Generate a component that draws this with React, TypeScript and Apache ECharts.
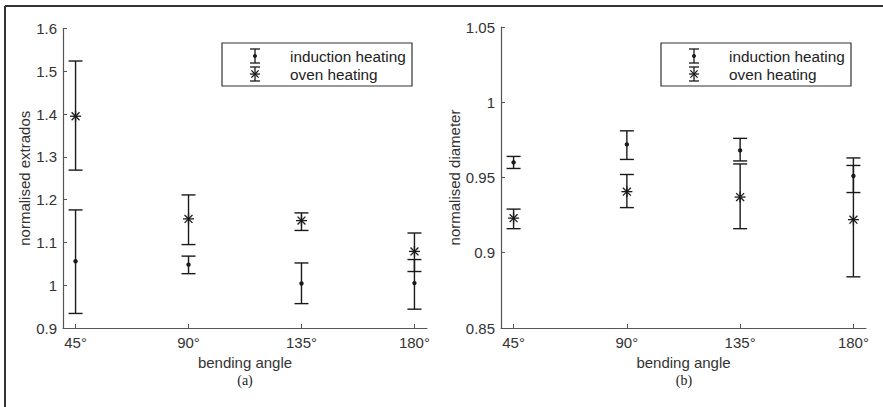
import React, { useEffect, useRef } from "react";
import * as echarts from "echarts";

const angles = [45, 90, 135, 180];
const angleTicks = [45, 90, 135, 180];

// (a) normalised extrados
const extInductionMean = [1.056, 1.048, 1.004, 1.005];
const extInductionLow = [0.934, 1.027, 0.957, 0.944];
const extInductionHigh = [1.176, 1.068, 1.052, 1.06];
const extOvenMean = [1.395, 1.155, 1.151, 1.079];
const extOvenLow = [1.269, 1.095, 1.128, 1.032];
const extOvenHigh = [1.524, 1.211, 1.169, 1.122];

// (b) normalised diameter
const diaInductionMean = [0.96, 0.972, 0.968, 0.951];
const diaInductionLow = [0.956, 0.962, 0.961, 0.94];
const diaInductionHigh = [0.964, 0.981, 0.976, 0.963];
const diaOvenMean = [0.923, 0.9406, 0.937, 0.922];
const diaOvenLow = [0.916, 0.93, 0.916, 0.884];
const diaOvenHigh = [0.929, 0.952, 0.959, 0.958];

const LINE = "#1a1a1a";
const AXIS = "#555";
const FONT = "Liberation Sans, Arial, sans-serif";

function rows(mean: number[], low: number[], high: number[]) {
  return angles.map((a, i) => [a, mean[i], low[i], high[i]]);
}

function makeRender(kind: "dot" | "star") {
  return (params: any, api: any) => {
    const x = api.value(0);
    const c = api.coord([x, api.value(1)]);
    const lo = api.coord([x, api.value(2)]);
    const hi = api.coord([x, api.value(3)]);
    const w = 7;
    const st = { stroke: LINE, lineWidth: 1.4 };
    const children: any[] = [
      { type: "line", shape: { x1: lo[0], y1: lo[1], x2: hi[0], y2: hi[1] }, style: st },
      { type: "line", shape: { x1: lo[0] - w, y1: lo[1], x2: lo[0] + w, y2: lo[1] }, style: st },
      { type: "line", shape: { x1: hi[0] - w, y1: hi[1], x2: hi[0] + w, y2: hi[1] }, style: st },
    ];
    if (kind === "dot") {
      children.push({ type: "circle", shape: { cx: c[0], cy: c[1], r: 2.2 }, style: { fill: LINE } });
    } else {
      const r = 5.5;
      const d = r * 0.72;
      const s = { stroke: LINE, lineWidth: 1.3 };
      children.push(
        { type: "line", shape: { x1: c[0] - r, y1: c[1], x2: c[0] + r, y2: c[1] }, style: s },
        { type: "line", shape: { x1: c[0], y1: c[1] - r, x2: c[0], y2: c[1] + r }, style: s },
        { type: "line", shape: { x1: c[0] - d, y1: c[1] - d, x2: c[0] + d, y2: c[1] + d }, style: s },
        { type: "line", shape: { x1: c[0] - d, y1: c[1] + d, x2: c[0] + d, y2: c[1] - d }, style: s }
      );
    }
    return { type: "group", children };
  };
}

function xAxisDef(gridIndex: number) {
  return {
    type: "value",
    gridIndex,
    min: 40,
    max: 185,
    name: "bending angle",
    nameLocation: "middle",
    nameGap: 22,
    nameTextStyle: { fontFamily: FONT, fontSize: 15, color: "#333" },
    axisLine: { lineStyle: { color: AXIS, width: 1.2 } },
    axisTick: { inside: true, length: 4, customValues: angleTicks, lineStyle: { color: AXIS } },
    axisLabel: {
      customValues: angleTicks,
      formatter: (v: number) => v + "°",
      fontFamily: FONT,
      fontSize: 15,
      color: "#333",
      margin: 7,
    },
    splitLine: { show: false },
  };
}

function yAxisDef(gridIndex: number, min: number, max: number, interval: number, name: string, gap: number) {
  return {
    type: "value",
    gridIndex,
    min,
    max,
    interval,
    name,
    nameLocation: "middle",
    nameGap: gap,
    nameTextStyle: { fontFamily: FONT, fontSize: 15, color: "#333" },
    axisLine: { show: true, lineStyle: { color: AXIS, width: 1.2 } },
    axisTick: { show: true, inside: true, length: 4, lineStyle: { color: AXIS } },
    axisLabel: { fontFamily: FONT, fontSize: 15, color: "#333", margin: 6 },
    splitLine: { show: false },
  };
}

function legendGraphic(left: number, top: number) {
  const w = 190;
  const h = 43;
  const ix = left + 33;
  const st = { stroke: LINE, lineWidth: 1.3 };
  const y1 = top + 13;
  const y2 = top + 31;
  const cw = 5;
  const r = 5;
  const d = r * 0.72;
  return [
    { type: "rect", shape: { x: left, y: top, width: w, height: h }, style: { fill: "#fff", stroke: "#333", lineWidth: 1.2 }, z: 10 },
    // induction icon
    { type: "line", shape: { x1: ix, y1: y1 - 7, x2: ix, y2: y1 + 7 }, style: st, z: 11 },
    { type: "line", shape: { x1: ix - cw, y1: y1 - 7, x2: ix + cw, y2: y1 - 7 }, style: st, z: 11 },
    { type: "line", shape: { x1: ix - cw, y1: y1 + 7, x2: ix + cw, y2: y1 + 7 }, style: st, z: 11 },
    { type: "circle", shape: { cx: ix, cy: y1, r: 2 }, style: { fill: LINE }, z: 11 },
    // oven icon
    { type: "line", shape: { x1: ix, y1: y2 - 7, x2: ix, y2: y2 + 7 }, style: st, z: 11 },
    { type: "line", shape: { x1: ix - cw, y1: y2 - 7, x2: ix + cw, y2: y2 - 7 }, style: st, z: 11 },
    { type: "line", shape: { x1: ix - cw, y1: y2 + 7, x2: ix + cw, y2: y2 + 7 }, style: st, z: 11 },
    { type: "line", shape: { x1: ix - r, y1: y2, x2: ix + r, y2: y2 }, style: st, z: 11 },
    { type: "line", shape: { x1: ix - d, y1: y2 - d, x2: ix + d, y2: y2 + d }, style: st, z: 11 },
    { type: "line", shape: { x1: ix - d, y1: y2 + d, x2: ix + d, y2: y2 - d }, style: st, z: 11 },
    {
      type: "text",
      x: left + 68,
      y: y1,
      style: { text: "induction heating", fontFamily: FONT, fontSize: 15.3, fill: "#222", verticalAlign: "middle" },
      z: 11,
    },
    {
      type: "text",
      x: left + 68,
      y: y2,
      style: { text: "oven heating", fontFamily: FONT, fontSize: 15.3, fill: "#222", verticalAlign: "middle" },
      z: 11,
    },
  ];
}

export default function App() {
  const ref = useRef<HTMLDivElement>(null);
  useEffect(() => {
    if (!ref.current) return;
    const chart = echarts.init(ref.current, null, { renderer: "svg" });
    chart.setOption({
      animation: false,
      backgroundColor: "#fff",
      grid: [
        { left: 63, top: 28.5, width: 364, height: 299.5 },
        { left: 501, top: 27, width: 365, height: 301 },
      ],
      xAxis: [xAxisDef(0), xAxisDef(1)],
      yAxis: [
        yAxisDef(0, 0.9, 1.6, 0.1, "normalised extrados", 26),
        yAxisDef(1, 0.85, 1.05, 0.05, "normalised diameter", 35),
      ],
      series: [
        { type: "custom", name: "induction heating", xAxisIndex: 0, yAxisIndex: 0, data: rows(extInductionMean, extInductionLow, extInductionHigh), encode: { x: 0, y: [1, 2, 3] }, renderItem: makeRender("dot") },
        { type: "custom", name: "oven heating", xAxisIndex: 0, yAxisIndex: 0, data: rows(extOvenMean, extOvenLow, extOvenHigh), encode: { x: 0, y: [1, 2, 3] }, renderItem: makeRender("star") },
        { type: "custom", name: "induction heating", xAxisIndex: 1, yAxisIndex: 1, data: rows(diaInductionMean, diaInductionLow, diaInductionHigh), encode: { x: 0, y: [1, 2, 3] }, renderItem: makeRender("dot") },
        { type: "custom", name: "oven heating", xAxisIndex: 1, yAxisIndex: 1, data: rows(diaOvenMean, diaOvenLow, diaOvenHigh), encode: { x: 0, y: [1, 2, 3] }, renderItem: makeRender("star") },
      ],
      graphic: [
        { type: "line", shape: { x1: 5, y1: 6, x2: 883, y2: 6 }, style: { stroke: "#333", lineWidth: 2 } },
        { type: "line", shape: { x1: 5, y1: 6, x2: 5, y2: 407 }, style: { stroke: "#333", lineWidth: 2 } },
        ...legendGraphic(222, 43),
        ...legendGraphic(661, 43),
        { type: "text", x: 245, y: 380, style: { text: "(a)", fontFamily: "Liberation Serif, serif", fontSize: 14, fill: "#222", align: "center", verticalAlign: "middle" } },
        { type: "text", x: 684, y: 380, style: { text: "(b)", fontFamily: "Liberation Serif, serif", fontSize: 14, fill: "#222", align: "center", verticalAlign: "middle" } },
      ],
    });
    return () => chart.dispose();
  }, []);
  return <div ref={ref} style={{ position: "fixed", left: 0, top: 0, width: 883, height: 407 }} />;
}
